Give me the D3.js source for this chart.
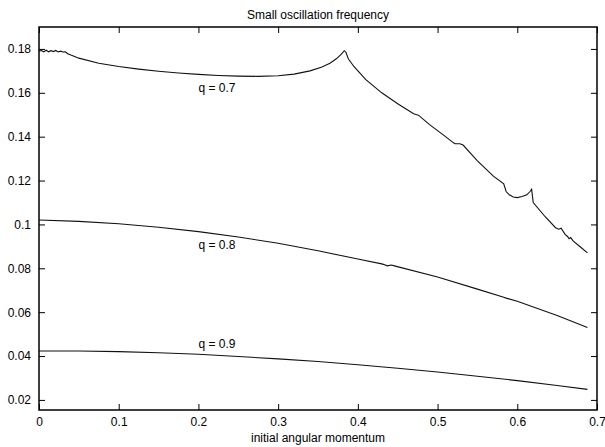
<!DOCTYPE html>
<html>
<head>
<meta charset="utf-8">
<script src="https://cdn.jsdelivr.net/npm/d3@7"></script>
<style>
  body { margin: 0; background: #fff; }
  svg text { font-family: "Liberation Sans", Arial, sans-serif; fill: #000; }
</style>
</head>
<body>
<div id="chart"></div>
<script>
// 数据
const xTicks = [0, 0.1, 0.2, 0.3, 0.4, 0.5, 0.6, 0.7];
const yTicks = [0.02, 0.04, 0.06, 0.08, 0.1, 0.12, 0.14, 0.16, 0.18];

const q07x = [0, 0.003, 0.006, 0.009, 0.012, 0.015, 0.018, 0.021, 0.024, 0.027, 0.030, 0.033, 0.036, 0.04, 0.05,
  0.075, 0.1, 0.125, 0.15, 0.175, 0.2, 0.225, 0.25, 0.275, 0.3, 0.32, 0.34, 0.355, 0.365, 0.373, 0.379, 0.383,
  0.385, 0.388, 0.395, 0.41, 0.43, 0.45, 0.47, 0.474, 0.476, 0.49, 0.51, 0.52, 0.522, 0.528, 0.532, 0.55, 0.57,
  0.583, 0.586, 0.59, 0.595, 0.6, 0.606, 0.612, 0.616, 0.618, 0.62, 0.635, 0.648, 0.652, 0.655, 0.66, 0.663,
  0.665, 0.667, 0.67, 0.68, 0.688];
const q07y = [0.1790, 0.1793, 0.1787, 0.1794, 0.1787, 0.1792, 0.1788, 0.1793, 0.1786, 0.1790, 0.1786, 0.1787, 0.1778, 0.1772, 0.1758,
  0.1735, 0.1720, 0.1708, 0.1698, 0.1690, 0.1684, 0.1679, 0.1676, 0.1675, 0.1678, 0.1685, 0.1700, 0.1718, 0.1735, 0.1755, 0.1775, 0.1792,
  0.1785, 0.1755, 0.1720, 0.1660, 0.1600, 0.1550, 0.1505, 0.1500, 0.1498, 0.1455, 0.1400, 0.1372, 0.1368, 0.1368, 0.1362, 0.1290, 0.1220,
  0.1185, 0.1150, 0.1135, 0.1125, 0.1122, 0.1127, 0.1135, 0.1150, 0.1160, 0.1100, 0.1035, 0.0985, 0.0978, 0.0983, 0.0955, 0.0945,
  0.0935, 0.0940, 0.0925, 0.0895, 0.0870];

const q08x = [0, 0.05, 0.1, 0.15, 0.2, 0.25, 0.3, 0.35, 0.4, 0.43, 0.432, 0.437, 0.442, 0.447, 0.5, 0.55, 0.583, 0.586, 0.6, 0.65, 0.688];
const q08y = [0.1020, 0.1014, 0.1003, 0.0987, 0.0967, 0.0943, 0.0914, 0.0880, 0.0842, 0.0820, 0.0818, 0.0811, 0.0815, 0.0810, 0.0760, 0.0705, 0.0668, 0.0664, 0.0650, 0.0585, 0.0530];

const q09x = [0, 0.05, 0.1, 0.15, 0.2, 0.25, 0.3, 0.35, 0.4, 0.45, 0.5, 0.55, 0.6, 0.65, 0.688];
const q09y = [0.0423, 0.0423, 0.0420, 0.0415, 0.0408, 0.0398, 0.0387, 0.0375, 0.0360, 0.0344, 0.0327, 0.0308, 0.0288, 0.0266, 0.0248];

const seriesNames = ["q = 0.7", "q = 0.8", "q = 0.9"];
const labelX = [0.2, 0.2, 0.2];
const labelY = [0.1625, 0.0905, 0.0456];

const width = 605, height = 447;
const margin = {top: 27, right: 8, bottom: 37, left: 39};
const plotWidth = width - margin.left - margin.right;
const plotHeight = height - margin.top - margin.bottom;

const xScale = d3.scaleLinear().domain([0, 0.7]).range([0, plotWidth]);
const yScale = d3.scaleLinear().domain([0.0154, 0.19]).range([plotHeight, 0]);

const svg = d3.select("#chart").append("svg")
  .attr("width", width)
  .attr("height", height);

const g = svg.append("g")
  .attr("transform", `translate(${margin.left},${margin.top})`);

const tickLen = 6;

// 坐标轴 (刻度朝内, 上/右镜像)
g.append("g")
  .attr("class", "x-axis")
  .attr("transform", `translate(0,${plotHeight})`)
  .call(d3.axisBottom(xScale).tickValues(xTicks).tickSize(-tickLen).tickPadding(7)
    .tickFormat(d => String(d)));
g.append("g")
  .attr("class", "x-top")
  .call(d3.axisTop(xScale).tickValues(xTicks).tickSize(-tickLen).tickFormat(""));
g.append("g")
  .attr("class", "y-axis")
  .call(d3.axisLeft(yScale).tickValues(yTicks).tickSize(-tickLen).tickPadding(8)
    .tickFormat(d => String(d)));
g.append("g")
  .attr("class", "y-right")
  .attr("transform", `translate(${plotWidth},0)`)
  .call(d3.axisRight(yScale).tickValues(yTicks).tickSize(-tickLen).tickFormat(""));

g.selectAll(".domain").remove();
g.selectAll(".tick line").attr("stroke", "#000");
g.selectAll(".tick text").style("font-size", "12px").style("font-family", "Liberation Sans, Arial, sans-serif");

// 边框
g.append("rect")
  .attr("x", 0).attr("y", 0)
  .attr("width", plotWidth).attr("height", plotHeight)
  .attr("fill", "none")
  .attr("stroke", "#000")
  .attr("stroke-width", 1.5);

// 曲线
const line = d3.line()
  .x(d => xScale(d[0]))
  .y(d => yScale(d[1]));

const allSeries = [
  d3.zip(q07x, q07y),
  d3.zip(q08x, q08y),
  d3.zip(q09x, q09y)
];

allSeries.forEach(pts => {
  g.append("path")
    .datum(pts)
    .attr("fill", "none")
    .attr("stroke", "#111")
    .attr("stroke-width", 1.1)
    .attr("d", line);
});

// 曲线标签
seriesNames.forEach((name, i) => {
  g.append("text")
    .attr("x", xScale(labelX[i]))
    .attr("y", yScale(labelY[i]))
    .attr("dy", "0.35em")
    .style("font-size", "12px")
    .text(name);
});

// 标题和轴标签
svg.append("text")
  .attr("x", margin.left + plotWidth / 2)
  .attr("y", 19)
  .attr("text-anchor", "middle")
  .style("font-size", "12px")
  .text("Small oscillation frequency");

svg.append("text")
  .attr("x", margin.left + plotWidth / 2)
  .attr("y", 442)
  .attr("text-anchor", "middle")
  .style("font-size", "12px")
  .text("initial angular momentum");
</script>
</body>
</html>
